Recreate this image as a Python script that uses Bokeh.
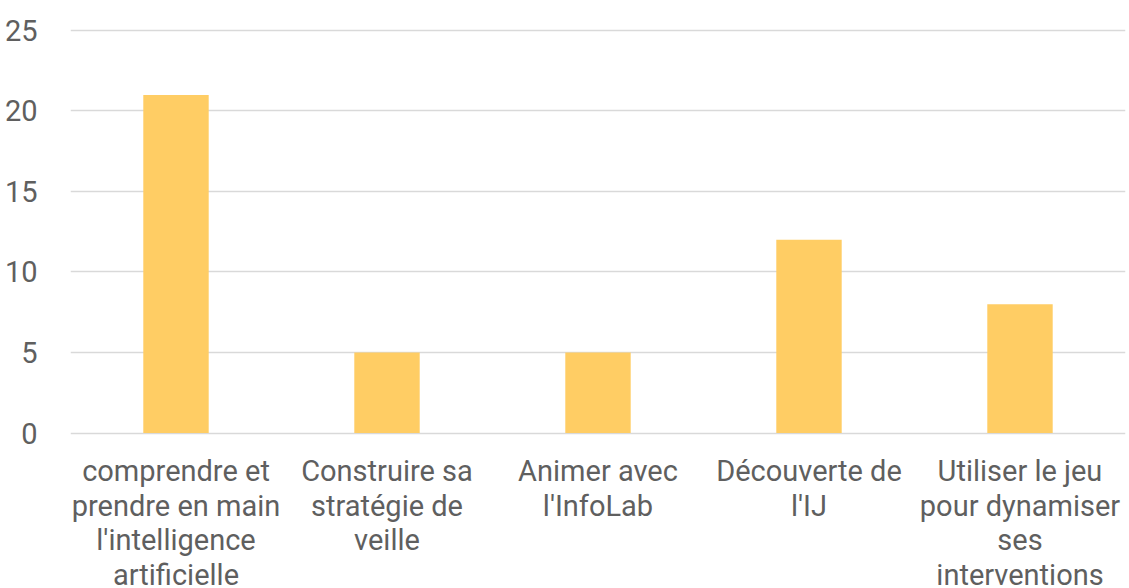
from bokeh.plotting import figure
from bokeh.models import Range1d, FactorRange
from bokeh.core.properties import value
from bokeh.embed import file_html
from bokeh.resources import INLINE

categories = [
    "comprendre et\nprendre en main\nl'intelligence\nartificielle",
    "Construire sa\nstratégie de\nveille",
    "Animer avec\nl'InfoLab",
    "Découverte de\nl'IJ",
    "Utiliser le jeu\npour dynamiser\nses\ninterventions",
]
values = [21, 5, 5, 12, 8]
y_ticks = [0, 5, 10, 15, 20, 25]

TEXT = "#5f5f5f"
GRID = "#d9d9d9"

p = figure(
    x_range=FactorRange(factors=categories),
    y_range=Range1d(-9.658, 26.863),
    width=1129, height=588,
    output_backend="svg", toolbar_location=None,
    min_border_left=70, min_border_right=4, min_border_top=0, min_border_bottom=0,
)
p.outline_line_color = None
p.vbar(x=categories, top=values, width=0.31, color="#FFCD64", line_color=None)

p.text(x=categories, y=[0] * len(categories), text=categories,
       text_font=value("Roboto"), text_font_size="29px", text_color=TEXT,
       text_align="center", text_baseline="top", text_line_height=1.02,
       y_offset=21)

p.xaxis.visible = False
p.xgrid.grid_line_color = None
p.ygrid.grid_line_color = GRID
p.ygrid.grid_line_width = 1.5
p.ygrid.ticker = y_ticks
p.yaxis.ticker = y_ticks
p.yaxis.axis_line_color = None
p.yaxis.major_tick_line_color = None
p.yaxis.minor_tick_line_color = None
p.yaxis.major_label_text_font = "Roboto"
p.yaxis.major_label_text_font_size = "29px"
p.yaxis.major_label_text_color = TEXT
p.yaxis.major_label_standoff = 27

open("out.html", "w").write(file_html(p, INLINE))
